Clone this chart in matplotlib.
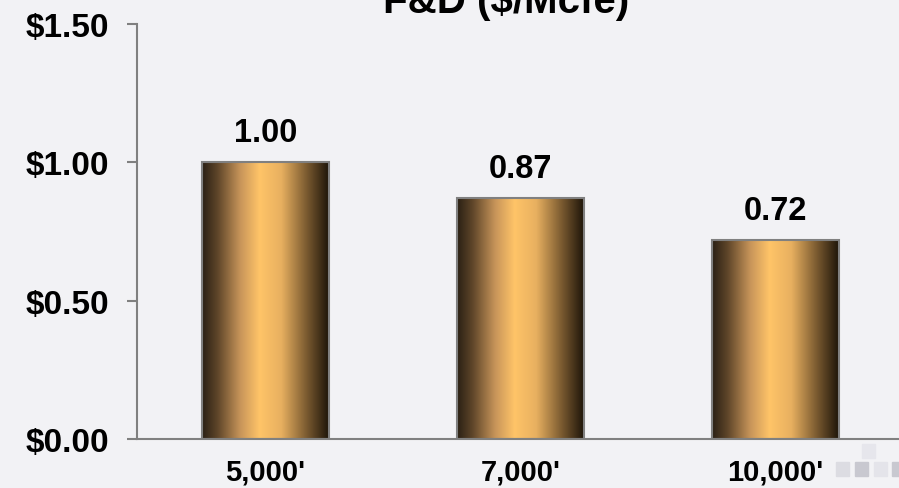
import numpy as np
import matplotlib.pyplot as plt
from matplotlib.colors import LinearSegmentedColormap
from matplotlib.patches import Rectangle

# data
categories = ["5,000'", "7,000'", "10,000'"]
values = [1.00, 0.87, 0.72]
labels = ["1.00", "0.87", "0.72"]
yticks = [0.0, 0.5, 1.0, 1.5]
ytick_labels = ["$0.00", "$0.50", "$1.00", "$1.50"]

BG = "#F2F2F5"
AXIS = "#808080"
FONT = "Liberation Sans"

gold = LinearSegmentedColormap.from_list(
    "gold",
    [(0.0, "#2a2014"), (0.12, "#5e4529"), (0.30, "#c8955a"),
     (0.45, "#ffc468"), (0.62, "#e8b060"), (0.82, "#7a5a30"),
     (1.0, "#1a1208")])

fig = plt.figure(figsize=(8.99, 4.89), dpi=100, facecolor=BG)
ax = fig.add_axes([137 / 899, 49 / 489, 1 - 137 / 899 + 0.01, 415 / 489])
ax.set_facecolor(BG)

x = np.arange(len(categories))
width = 0.5
bars = ax.bar(x, values, width=width, color="none", edgecolor=AXIS,
              linewidth=1.5, zorder=3)

# horizontal gradient fill clipped to each bar
grad = np.linspace(0, 1, 256).reshape(1, -1)
for b in bars:
    x0, y0 = b.get_x(), b.get_y()
    w, h = b.get_width(), b.get_height()
    im = ax.imshow(grad, cmap=gold, aspect="auto",
                   extent=[x0, x0 + w, y0, y0 + h], zorder=2)
    im.set_clip_path(Rectangle((x0, y0), w, h, transform=ax.transData))

for xi, v, lab in zip(x, values, labels):
    ax.text(xi, v + 0.05, lab, ha="center", va="bottom",
            fontsize=23.5, fontweight="bold", family=FONT)

ax.set_xlim(-0.503, 2.52)
ax.set_ylim(0, 1.5)
ax.set_yticks(yticks)
ax.set_yticklabels(ytick_labels, fontsize=24, fontweight="bold", family=FONT)
ax.set_xticks(x)
ax.set_xticklabels(categories, fontsize=21, fontweight="bold", family=FONT)
ax.tick_params(axis="y", length=7, width=1.5, color=AXIS, pad=13)
ax.tick_params(axis="x", length=0, pad=13)
for s in ["top", "right"]:
    ax.spines[s].set_visible(False)
for s in ["left", "bottom"]:
    ax.spines[s].set_color(AXIS)
    ax.spines[s].set_linewidth(1.5)

fig.text(506 / 899, 1 - 13 / 489, "F&D ($/Mcfe)", ha="center",
         va="baseline", fontsize=29, fontweight="bold", family=FONT)

# faint logo squares bottom right
for (px, py, c) in [(836, 463, "#dcdce2"), (855, 463, "#c8c8d0"),
                    (874, 463, "#e4e4ea"), (892, 463, "#c8c8d0"),
                    (862, 445, "#e6e6ec")]:
    fig.patches.append(Rectangle((px / 899, 1 - (py + 14) / 489),
                                 13 / 899, 14 / 489, transform=fig.transFigure,
                                 color=c, zorder=0))

fig.savefig("out.png", dpi=100, facecolor=BG)
